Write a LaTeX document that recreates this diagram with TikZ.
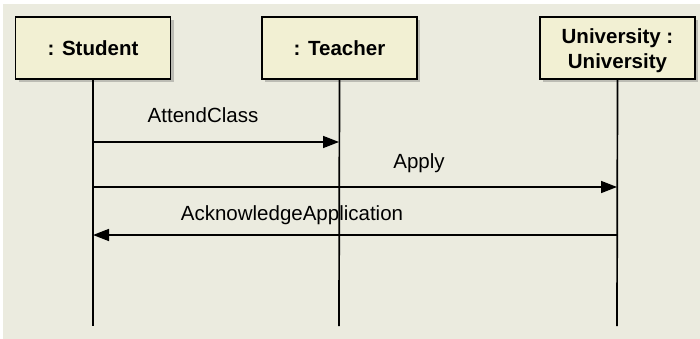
\documentclass[tikz,border=0pt]{standalone}
\usepackage{fontspec}
\setmainfont{Liberation Sans}
\usetikzlibrary{arrows.meta,shadows}
\definecolor{bgc}{HTML}{EBEBDF}
\definecolor{boxc}{HTML}{F2F0D3}
\begin{document}
\begin{tikzpicture}[x=1pt,y=-1pt,
  obj/.style={draw=black, line width=1.3pt, fill=boxc, minimum width=155pt, minimum height=62pt,
    align=center, font=\fontsize{20.5}{24.5}\selectfont\bfseries, inner sep=0pt,
    drop shadow={shadow xshift=3pt, shadow yshift=-3pt, opacity=0.35, fill=black!60}},
  life/.style={line width=1.7pt},
  msg/.style={line width=1.6pt, -{Triangle[length=16pt,width=12pt]}},
  lbl/.style={font=\fontsize{20.5}{25}\selectfont, inner sep=0pt}]
\useasboundingbox (0,0) rectangle (700,339);
\fill[white] (0,0) rectangle (700,339);
\fill[bgc] (3,4) rectangle (700,339);
\node[obj] (s) at (93,48) {: Student};
\node[obj] (t) at (339.5,48) {: Teacher};
\node[obj] (u) at (617.5,48) {\raisebox{-3pt}[\height][\depth]{\begin{tabular}{@{}c@{}}University :\\University\end{tabular}}};
\coordinate (se) at (93,326);
\coordinate (te) at (339,326);
\coordinate (ue) at (617,326);
\draw[life] (s.south) -- (se);
\draw[life] (t.south) -- (te);
\draw[life] (u.south) -- (ue);
\coordinate (s1) at (93,142); \coordinate (t1) at (339,142);
\coordinate (s2) at (93,187); \coordinate (u2) at (617,187);
\coordinate (s3) at (93,235); \coordinate (u3) at (617,235);
\draw[msg] (s1) -- (t1);
\draw[msg] (s2) -- (u2);
\draw[msg] (u3) -- (s3);
\node[lbl] (l1) at (203,115) {AttendClass};
\node[lbl] (l2) at (419,163) {Apply};
\node[lbl] (l3) at (292,215) {AcknowledgeApplication};
\end{tikzpicture}
\end{document}
